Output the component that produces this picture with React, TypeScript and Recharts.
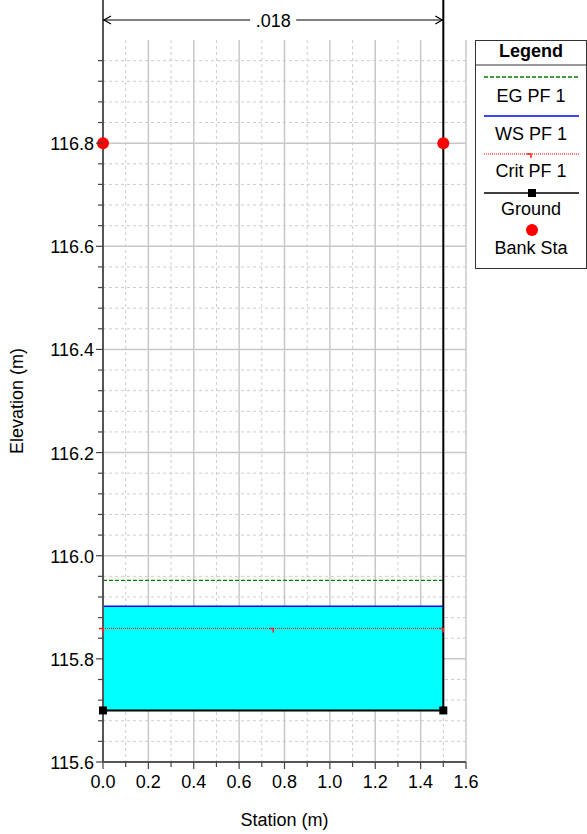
import React from "react";
import {
  Area,
  CartesianGrid,
  ComposedChart,
  Label,
  Legend,
  Line,
  ReferenceLine,
  XAxis,
  YAxis,
} from "recharts";

const FONT = '"Liberation Sans", Arial, Helvetica, sans-serif';

// axes
const STATION_MIN = 0;
const STATION_MAX = 1.6;
const ELEV_MIN = 115.6;
const ELEV_MAX = 117.0;
const xMajorTicks = [0, 0.2, 0.4, 0.6, 0.8, 1.0, 1.2, 1.4, 1.6];
const yMajorTicks = [115.6, 115.8, 116.0, 116.2, 116.4, 116.6, 116.8];

// cross section
const groundStation = [0, 0, 1.5, 1.5];
const groundElevation = [117.0, 115.7, 115.7, 117.0];
const bankStation = [0, 1.5];
const bankElevation = [116.8, 116.8];
const wsStation = [0, 1.5];
const wsElevation = [115.902, 115.902];
const egElevation = [115.952, 115.952];
const critStation = [0, 0.75, 1.5];
const critElevation = [115.859, 115.859, 115.859];
const channelBed = 115.7;
const topWidthLabel = ".018";

const legendNames = ["EG PF 1", "WS PF 1", "Crit PF 1", "Ground", "Bank Sta"];

const r2 = (v: number) => Number(v.toFixed(3));

const xMinorTicks = xMajorTicks.slice(0, -1).map((v, i) => r2((v + xMajorTicks[i + 1]) / 2));
const yMinorTicks: number[] = [];
yMajorTicks.forEach((v) => {
  for (let k = 1; k < 5; k++) {
    const t = r2(v + (k * 0.2) / 5);
    if (t < ELEV_MAX) yMinorTicks.push(t);
  }
});
const xAllTicks = [...xMajorTicks, ...xMinorTicks].sort((a, b) => a - b);
const yAllTicks = [...yMajorTicks, ...yMinorTicks].sort((a, b) => a - b);

const pts = (st: number[], el: number[]) => st.map((s, i) => ({ station: s, elevation: el[i] }));
const groundData = pts(groundStation, groundElevation);
const bankData = pts(bankStation, bankElevation);
const wsData = pts(wsStation, wsElevation);
const egData = pts(wsStation, egElevation);
const critData = pts(critStation, critElevation);
const fillData = wsStation.map((s, i) => ({ station: s, band: [channelBed, wsElevation[i]] }));

const isMajor = (v: number, majors: number[]) => majors.some((m) => Math.abs(m - v) < 1e-6);

const XTick = (props: any) => {
  const { x, y, payload } = props;
  const major = isMajor(payload.value, xMajorTicks);
  return (
    <g>
      <line x1={x} y1={y} x2={x} y2={y + (major ? 7 : 5)} stroke="#444" strokeWidth={1.2} />
      {major && (
        <text x={x} y={y + 26} textAnchor="middle" fontSize={18} fontFamily={FONT} fill="#000">
          {payload.value.toFixed(1)}
        </text>
      )}
    </g>
  );
};

const YTick = (props: any) => {
  const { x, y, payload } = props;
  const major = isMajor(payload.value, yMajorTicks);
  return (
    <g>
      <line x1={x} y1={y} x2={x - (major ? 7 : 5)} y2={y} stroke="#444" strokeWidth={1.2} />
      {major && (
        <text x={x - 9} y={y + 7} textAnchor="end" fontSize={18} fontFamily={FONT} fill="#000">
          {payload.value.toFixed(1)}
        </text>
      )}
    </g>
  );
};

const XTitle = (props: any) => {
  const { x, y, width } = props.viewBox;
  return (
    <text x={x + width / 2} y={y + 64} textAnchor="middle" fontSize={18} fontFamily={FONT} fill="#000">
      Station (m)
    </text>
  );
};

const YTitle = (props: any) => {
  const { x, y, height } = props.viewBox;
  const cx = x + 23;
  const cy = y + height / 2;
  return (
    <text
      x={cx}
      y={cy}
      transform={`rotate(-90 ${cx} ${cy})`}
      textAnchor="middle"
      fontSize={18}
      fontFamily={FONT}
      fill="#000"
    >
      Elevation (m)
    </text>
  );
};

const groundDot = (props: any) => {
  const { cx, cy, payload, index } = props;
  if (payload.elevation >= ELEV_MAX) return <g key={index} />;
  return <rect key={index} x={cx - 4} y={cy - 4} width={8} height={8} fill="#000" />;
};

const critDot = (props: any) => {
  const { cx, cy, index } = props;
  return (
    <path key={index} d={`M${cx - 4},${cy} H${cx} V${cy + 4}`} fill="none" stroke="#ff2020" strokeWidth={1.5} />
  );
};

// top width dimension drawn above the plot
const DimensionShape = (props: any) => {
  const { x1, y1, x2 } = props;
  const yy = y1 - 20;
  const mid = (x1 + x2) / 2;
  return (
    <g>
      <line x1={x1} y1={y1} x2={x1} y2={y1 - 40} stroke="#555" strokeWidth={2} />
      <line x1={x2} y1={y1} x2={x2} y2={y1 - 40} stroke="#000" strokeWidth={2} />
      <line x1={x1} y1={yy} x2={mid - 23} y2={yy} stroke="#000" strokeWidth={1.2} />
      <line x1={mid + 23} y1={yy} x2={x2} y2={yy} stroke="#000" strokeWidth={1.2} />
      <path d={`M${x1 + 8},${yy - 4} L${x1 + 1},${yy} L${x1 + 8},${yy + 4}`} fill="none" stroke="#000" strokeWidth={1.2} />
      <path d={`M${x2 - 8},${yy - 4} L${x2 - 1},${yy} L${x2 - 8},${yy + 4}`} fill="none" stroke="#000" strokeWidth={1.2} />
      <text x={mid} y={yy + 7} textAnchor="middle" fontSize={18} fontFamily={FONT} fill="#000">
        {topWidthLabel}
      </text>
    </g>
  );
};

const LegendBox = () => {
  const tx = 56;
  const l1 = 9;
  const l2 = 104;
  return (
    <svg width={112} height={230} style={{ display: "block" }}>
      <rect x={0.5} y={0.5} width={111} height={228} fill="#fff" stroke="#333" />
      <text x={tx} y={17} textAnchor="middle" fontSize={18} fontWeight="bold" fontFamily={FONT}>
        Legend
      </text>
      <line x1={0.5} y1={25} x2={111.5} y2={25} stroke="#333" />
      <line x1={l1} y1={37} x2={l2} y2={37} stroke="#008000" strokeDasharray="4 2" strokeWidth={1.5} />
      <text x={tx} y={62} textAnchor="middle" fontSize={18} fontFamily={FONT}>{legendNames[0]}</text>
      <line x1={l1} y1={76} x2={l2} y2={76} stroke="#0000ff" strokeWidth={1.5} />
      <text x={tx} y={100} textAnchor="middle" fontSize={18} fontFamily={FONT}>{legendNames[1]}</text>
      <line x1={l1} y1={114} x2={l2} y2={114} stroke="#ff0000" strokeDasharray="1 1" strokeWidth={1} />
      <path d={`M${tx - 4},114 H${tx} V118`} fill="none" stroke="#ff2020" strokeWidth={1.5} />
      <text x={tx} y={137} textAnchor="middle" fontSize={18} fontFamily={FONT}>{legendNames[2]}</text>
      <line x1={l1} y1={153} x2={l2} y2={153} stroke="#000" strokeWidth={1.5} />
      <rect x={tx + 1 - 4} y={149} width={8} height={8} fill="#000" />
      <text x={tx} y={175} textAnchor="middle" fontSize={18} fontFamily={FONT}>{legendNames[3]}</text>
      <circle cx={tx + 1} cy={190} r={6} fill="#ff0000" />
      <text x={tx} y={214} textAnchor="middle" fontSize={18} fontFamily={FONT}>{legendNames[4]}</text>
    </svg>
  );
};

export default function App() {
  return (
    <div style={{ position: "absolute", left: 0, top: 0, width: 587, height: 834, background: "#fff", fontFamily: FONT }}>
      <ComposedChart width={587} height={834} data={fillData} margin={{ top: 40, right: 121, bottom: 0, left: 0 }}>
        <CartesianGrid
          horizontalValues={yMinorTicks}
          verticalValues={xMinorTicks}
          stroke="#cccccc"
          strokeDasharray="3 3"
          strokeWidth={1}
        />
        <CartesianGrid
          horizontalValues={yMajorTicks.slice(1)}
          verticalValues={xMajorTicks.slice(1)}
          stroke="#c8c8c8"
          strokeWidth={1.5}
        />
        <XAxis
          type="number"
          dataKey="station"
          domain={[STATION_MIN, STATION_MAX]}
          ticks={xAllTicks}
          interval={0}
          height={72}
          tickSize={0}
          tickMargin={0}
          tick={XTick}
          tickLine={false}
          axisLine={{ stroke: "#555", strokeWidth: 2 }}
        >
          <Label content={XTitle} />
        </XAxis>
        <YAxis
          type="number"
          domain={[ELEV_MIN, ELEV_MAX]}
          ticks={yAllTicks}
          interval={0}
          width={103}
          tickSize={0}
          tickMargin={0}
          tick={YTick}
          tickLine={false}
          axisLine={{ stroke: "#555", strokeWidth: 2 }}
        >
          <Label content={YTitle} />
        </YAxis>
        <Area dataKey="band" fill="#00ffff" fillOpacity={1} stroke="none" isAnimationActive={false} activeDot={false} />
        <Line data={egData} dataKey="elevation" stroke="#008000" strokeDasharray="4 2" strokeWidth={1.3} dot={false} activeDot={false} isAnimationActive={false} />
        <Line data={wsData} dataKey="elevation" stroke="#0000ff" strokeWidth={1.5} dot={false} activeDot={false} isAnimationActive={false} />
        <Line data={critData} dataKey="elevation" stroke="#ff0000" strokeDasharray="1 1" strokeWidth={1} dot={critDot} activeDot={false} isAnimationActive={false} />
        <Line data={groundData} dataKey="elevation" stroke="#000" strokeWidth={2} dot={groundDot} activeDot={false} isAnimationActive={false} />
        <Line data={bankData} dataKey="elevation" stroke="none" dot={{ r: 6, fill: "#ff0000", stroke: "none" }} activeDot={false} isAnimationActive={false} />
        <ReferenceLine
          segment={[
            { x: groundStation[0], y: ELEV_MAX },
            { x: groundStation[3], y: ELEV_MAX },
          ]}
          shape={DimensionShape}
        />
        <Legend
          layout="vertical"
          align="center"
          verticalAlign="middle"
          content={LegendBox}
          wrapperStyle={{ left: 475, top: 40, width: 112, height: 230 }}
        />
      </ComposedChart>
    </div>
  );
}
